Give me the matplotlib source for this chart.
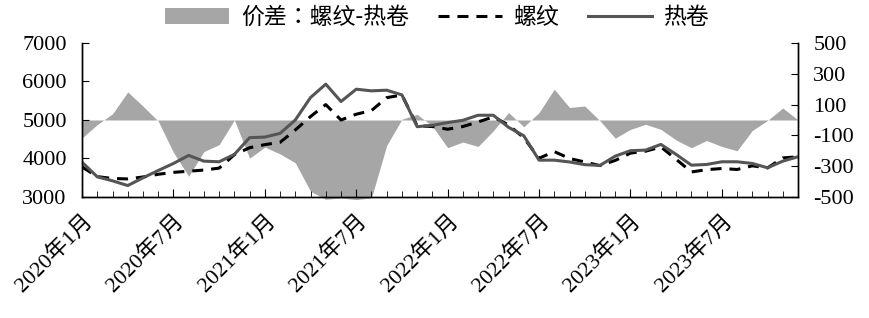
import numpy as np
import matplotlib
matplotlib.use("Agg")
import matplotlib.pyplot as plt
from matplotlib.patches import Patch
from matplotlib.lines import Line2D

# 2020年1月 - 2023年12月, monthly
rebar = [3780, 3530, 3480, 3470, 3520, 3590, 3640, 3670, 3700, 3750,
         4100, 4280, 4360, 4420, 4740, 5090, 5400, 5000, 5150, 5245,
         5580, 5650, 4850, 4830, 4760, 4830, 4950, 5080, 4870, 4540,
         4005, 4180, 4000, 3910, 3815, 3950, 4140, 4190, 4300, 3980,
         3650, 3710, 3740, 3715, 3810, 3755, 4015, 4045]
hotroll = [3905, 3524, 3420, 3297, 3498, 3688, 3871, 4080, 3931, 3915,
           4106, 4541, 4557, 4653, 5000, 5584, 5931, 5480, 5800, 5757,
           5774, 5652, 4826, 4862, 4932, 4992, 5123, 5123, 4810, 4590,
           3957, 3957, 3910, 3840, 3820, 4061, 4202, 4218, 4366, 4106,
           3827, 3845, 3915, 3915, 3871, 3759, 3931, 4045]
spread = [-117, -30, 40, 182, 90, -7, -210, -365, -205, -160,
          0, -248, -176, -220, -278, -463, -515, -506, -517, -505,
          -165, 5, 37, -40, -180, -143, -172, -70, 48, -44,
          48, 200, 81, 91, -5, -118, -61, -28, -61, -130,
          -180, -133, -172, -200, -68, -3, 78, 0]
tick_labels = ["2020年1月", "2020年7月", "2021年1月", "2021年7月",
               "2022年1月", "2022年7月", "2023年1月", "2023年7月"]

x = np.arange(len(rebar))

plt.rcParams['font.family'] = ['Liberation Serif', 'Noto Sans CJK SC']
plt.rcParams['axes.unicode_minus'] = False
plt.rcParams['axes.linewidth'] = 1.0

fig = plt.figure(figsize=(8.69, 3.18), dpi=100)
ax = fig.add_axes([0.0944, 0.3805, 0.8239, 0.4843])
ax2 = ax.twinx()

ax2.fill_between(x, spread, 0, color='#A6A6A6', lw=0, clip_on=False)
ax.plot(x, rebar, color='black', lw=2.2, dashes=(3.6, 2.6))
ax.plot(x, hotroll, color='#555555', lw=2.2)

ax.set_zorder(ax2.get_zorder() + 1)
ax.patch.set_visible(False)

ax.set_xlim(0, len(x) - 1)
ax.set_ylim(3000, 7000)
ax2.set_ylim(-500, 500)
ax.set_yticks([3000, 4000, 5000, 6000, 7000])
ax2.set_yticks([-500, -300, -100, 100, 300, 500])

ax.set_xticks(np.arange(0, len(x), 6))
ax.set_xticks(np.arange(len(x)), minor=True)
ax.set_xticklabels(tick_labels, rotation=45, ha='right', rotation_mode='anchor')

for a in (ax, ax2):
    a.spines['top'].set_visible(False)
    a.tick_params(axis='both', which='both', direction='in', labelsize=16)
ax.tick_params(axis='y', length=5, pad=11)
ax2.tick_params(axis='y', length=5, pad=11)
ax.tick_params(axis='x', which='major', length=6, pad=10)
ax.tick_params(axis='x', which='minor', length=4)

handles = [Patch(facecolor='#A6A6A6', edgecolor='none'),
           Line2D([], [], color='black', lw=2.2, dashes=(3.6, 2.6)),
           Line2D([], [], color='#555555', lw=2.2)]
fig.legend(handles, ["价差：螺纹-热卷", "螺纹", "热卷"], loc='center',
           bbox_to_anchor=(0.503, 0.945), ncol=3, frameon=False,
           prop={'family': ['Noto Sans CJK TC'], 'size': 16.5},
           handlelength=2.8, columnspacing=1.25, handletextpad=0.5)

fig.savefig("out.png", dpi=100)
